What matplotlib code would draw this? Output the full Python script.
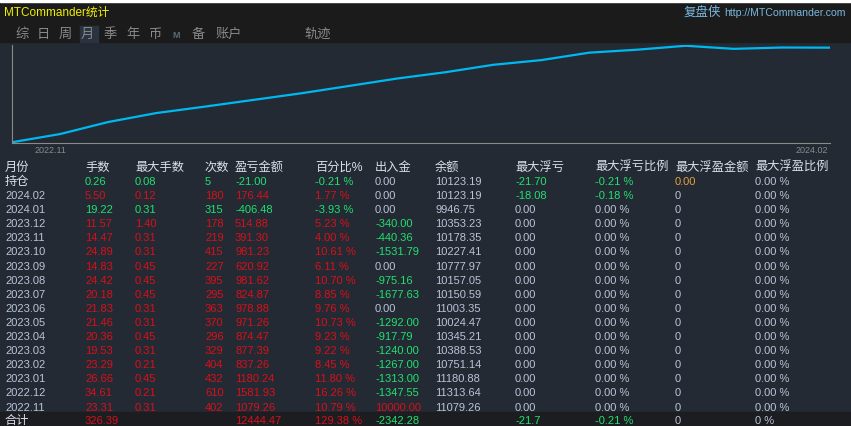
import matplotlib
matplotlib.use("Agg")
import matplotlib.pyplot as plt
from matplotlib.patches import Rectangle
import numpy as np

plt.rcParams['font.family'] = ['Liberation Sans', 'Noto Sans CJK SC', 'DejaVu Sans']

months = ["持仓","2024.02","2024.01","2023.12","2023.11","2023.10","2023.09","2023.08","2023.07",
          "2023.06","2023.05","2023.04","2023.03","2023.02","2023.01","2022.12","2022.11"]
lots = ["0.26","5.50","19.22","11.57","14.47","24.89","14.83","24.42","20.18","21.83","21.46","20.36","19.53","23.29","26.66","34.61","23.31"]
maxlots = ["0.08","0.12","0.31","1.40","0.31","0.31","0.45","0.45","0.45","0.31","0.31","0.45","0.31","0.21","0.45","0.21","0.31"]
counts = ["5","180","315","178","219","415","227","395","295","363","370","296","329","404","432","610","402"]
profit = [-21.00,176.44,-406.48,514.88,391.30,981.23,620.92,981.62,824.87,978.88,971.26,874.47,877.39,837.26,1180.24,1581.93,1079.26]
pct = ["-0.21 %","1.77 %","-3.93 %","5.23 %","4.00 %","10.61 %","6.11 %","10.70 %","8.85 %","9.76 %","10.73 %","9.23 %","9.22 %","8.45 %","11.80 %","16.26 %","10.79 %"]
flows = ["0.00","0.00","0.00","-340.00","-440.36","-1531.79","0.00","-975.16","-1677.63","0.00","-1292.00","-917.79","-1240.00","-1267.00","-1313.00","-1347.55","10000.00"]
balance = ["10123.19","10123.19","9946.75","10353.23","10178.35","10227.41","10777.97","10157.05","10150.59","11003.35","10024.47","10345.21","10388.53","10751.14","11180.88","11313.64","11079.26"]
maxdd = ["-21.70","-18.08"] + ["0.00"]*15
maxddp = ["-0.21 %","-0.18 %"] + ["0.00 %"]*15
maxfp = ["0.00"] + ["0"]*16
maxfpp = ["0.00 %"]*17
headers = ["月份","手数","最大手数","次数","盈亏金额","百分比%","出入金","余额","最大浮亏","最大浮亏比例","最大浮盈金额","最大浮盈比例"]
totals = ["合计","326.39","","","12444.47","129.38 %","-2342.28","","-21.7","-0.21 %","0","0 %"]
tabs = ["综","日","周","月","季","年","币","M","备","账户","轨迹"]

W, H = 851, 427
fig = plt.figure(figsize=(W/100, H/100), dpi=100)
fig.patch.set_facecolor('#232a33')
ax = fig.add_axes([0, 0, 1, 1])
ax.set_xlim(0, W); ax.set_ylim(H, 0); ax.axis('off')

ax.add_patch(Rectangle((0, 0), W, 43, color='#1b1b1b', zorder=0))
ax.add_patch(Rectangle((0, 0), W, 3, color='#ffffff', zorder=1))
ax.add_patch(Rectangle((0, 413), W, 14, color='#1b1d20', zorder=0))
ax.add_patch(Rectangle((80, 27), 18, 16, color='#2a3340', zorder=1))

ax.text(4, 13, "MTCommander统计", color='#f0f000', fontsize=8.5, va='center')
ax.text(724, 13, "http://MTCommander.com", color='#7ab8e0', fontsize=7.6, va='center', ha='left')
ax.text(684, 13, "复盘侠", color='#7ab8e0', fontsize=9, va='center', ha='left')
tab_x = [15, 37, 59, 81, 104, 126, 148, 172, 192, 216, 304]
for t, x in zip(tabs, tab_x):
    ax.text(x, 35, t, color='#8a8a8a' if t != 'M' else '#5a6a7a',
            fontsize=9.5 if t != 'M' else 6.5, va='center', fontweight='bold' if t == 'M' else 'normal')

# curve
cax = fig.add_axes([12/W, 1-144/H, (830-12)/W, (144-46)/H])
cax.set_facecolor('#232a33')
cum = np.concatenate([[0], np.cumsum(profit[::-1])])
cax.plot(np.arange(len(cum)), cum, color='#00b8f0', lw=1.6)
cax.set_xlim(0, len(cum)-1)
cax.set_ylim(cum.min()-100, cum.max()+100)
cax.set_xticks([]); cax.set_yticks([])
for s in ['top', 'right']:
    cax.spines[s].set_visible(False)
for s in ['left', 'bottom']:
    cax.spines[s].set_color('#8a8a8a')
ax.text(35, 151, "2022.11", color='#8a8a8a', fontsize=6.5, va='center')
ax.text(828, 151, "2024.02", color='#8a8a8a', fontsize=6.5, va='center', ha='right')

cols_x = [5, 85, 135, 205, 235, 315, 375, 435, 515, 595, 675, 755]
RED, GRN, TXT = '#d8101a', '#22e070', '#b8c4d8'
fs = 8
for h, x in zip(headers, cols_x):
    ax.text(x, 168, h, color='#d8e0ec', fontsize=8.8, va='center')

for i in range(len(months)):
    y = 182 + i * 14.1
    p = profit[i]
    c = GRN if p < 0 else RED
    mcol = '#d8e0ec' if i == 0 else TXT
    ax.text(cols_x[0], y, months[i], color=mcol, fontsize=8.8 if i == 0 else fs, va='center')
    for j, v in enumerate([lots[i], maxlots[i], counts[i], f"{p:.2f}", pct[i]]):
        ax.text(cols_x[j+1], y, v, color=c, fontsize=fs, va='center')
    f = flows[i]
    fc = GRN if f.startswith('-') else (RED if float(f) > 0 else TXT)
    ax.text(cols_x[6], y, f, color=fc, fontsize=fs, va='center')
    ax.text(cols_x[7], y, balance[i], color=TXT, fontsize=fs, va='center')
    for j, v in enumerate([maxdd[i], maxddp[i]]):
        ax.text(cols_x[8+j], y, v, color=GRN if v.startswith('-') else TXT, fontsize=fs, va='center')
    ax.text(cols_x[10], y, maxfp[i], color='#e0a040' if i == 0 else TXT, fontsize=fs, va='center')
    ax.text(cols_x[11], y, maxfpp[i], color=TXT, fontsize=fs, va='center')

yt = 421
for j, (v, x) in enumerate(zip(totals, cols_x)):
    if not v:
        continue
    if j == 0:
        c = '#d8e0ec'
    elif v.startswith('-'):
        c = GRN
    elif j >= 10:
        c = TXT
    else:
        c = RED
    ax.text(x, yt, v, color=c, fontsize=8.8 if j == 0 else fs, va='center')

fig.savefig("out.png", dpi=100, facecolor=fig.get_facecolor())
